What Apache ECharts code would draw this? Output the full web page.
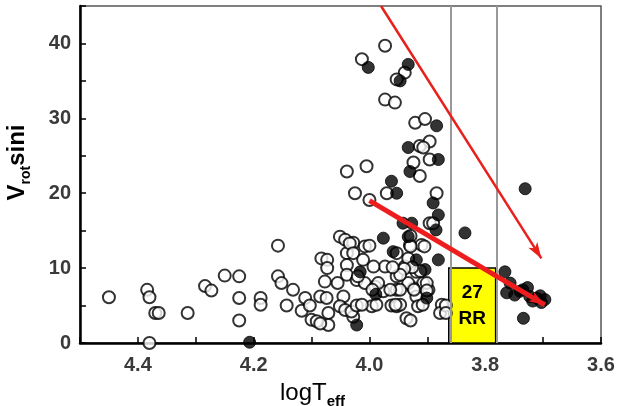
<!DOCTYPE html>
<html>
<head>
<meta charset="UTF-8">
<title>Vrot sini vs logTeff</title>
<script src="https://cdn.jsdelivr.net/npm/echarts@6/dist/echarts.min.js"></script>
<style type="text/css">
body{margin:0;padding:0;background:#fff;}
#main{width:617px;height:406px;}
</style>
</head>
<body>
<div id="main"></div>
<script type="text/javascript">
// open circles [logTeff, Vrot sini]
var openStars = [
  [4.45,6.1],[4.384,7.1],[4.38,6.1],[4.37,4.0],[4.364,4.0],[4.38,0],[4.314,4.0],[4.284,7.6],[4.273,7.0],
  [4.25,9.0],[4.225,8.9],[4.225,6.0],[4.225,3.0],[4.188,6.0],[4.188,5.1],[4.158,13.0],[4.158,8.9],[4.152,8.0],
  [4.143,5.0],[4.132,7.1],[4.111,6.0],[4.117,4.3],[4.103,5.0],[4.1,3.1],[4.091,2.9],[4.085,6.2],[4.083,11.3],
  [4.073,11.1],[4.073,10.0],[4.077,8.2],[4.074,6.0],[4.071,4.0],[4.071,2.4],[4.085,2.6],[4.051,14.2],[4.042,13.8],
  [4.028,13.4],[4.039,12.0],[4.039,10.4],[4.039,9.1],[4.055,8.0],[4.045,6.2],[4.051,4.9],[4.042,4.4],[4.022,8.4],
  [4.028,3.5],[4.034,13.3],[4.028,12.0],[4.008,12.9],[4.011,11.1],[3.973,10.2],[3.993,10.2],[4.008,8.0],[3.99,7.5],
  [3.976,6.9],[3.953,8.9],[3.953,7.1],[3.962,5.0],[3.953,4.9],[3.939,10.2],[3.933,11.3],[3.93,13.1],[3.919,9.5],
  [3.91,13.1],[3.907,8.0],[3.924,7.3],[3.933,8.0],[3.919,6.2],[3.898,7.1],[3.916,4.9],[3.936,3.3],[3.896,16.0],
  [3.875,5.1],[3.878,4.0],[4.031,4.2],[3.996,4.9],[4.022,5.0],[3.953,12.0],[4.0,13.0],[3.985,8.0],[3.995,7.1],
  [3.988,5.1],[4.013,5.1],[4.02,8.9],[3.973,39.7],[4.013,37.9],[3.939,36.1],[3.953,35.2],[3.973,32.5],[3.956,32.1],
  [3.921,29.4],[3.904,29.9],[3.913,26.3],[3.896,26.9],[3.907,26.1],[3.896,24.5],[3.924,24.1],[3.913,22.3],
  [4.039,22.9],[4.005,23.6],[4.025,20.0],[4.0,19.1],[3.97,20.0],[3.884,20.0],[3.89,16.0],[3.905,12.9],[3.912,9.6],
  [3.901,8.0],[3.901,7.0],[3.908,5.1],[3.929,14.3],[3.929,12.9],[3.926,10.1],[3.923,7.1],[3.929,3.0],[3.94,9.9],
  [3.947,9.1],[3.947,7.1],[3.947,5.1],[3.955,5.1],[3.964,7.1],[3.96,10.1],[3.868,5.0],[3.868,4.0]
];
// filled circles
var filledStars = [
  [4.207,0.1],[4.022,2.4],[4.016,9.5],[3.989,6.5],[4.002,36.8],[3.933,37.2],[3.947,35.0],[3.884,29.0],[3.933,26.1],
  [3.881,24.5],[3.93,22.9],[3.962,21.6],[3.953,20.0],[3.89,18.7],[3.881,17.1],[3.942,16.0],[3.927,16.0],[3.933,14.2],
  [3.976,14.0],[3.959,12.2],[3.919,11.1],[3.881,11.1],[3.904,9.8],[3.901,6.0],[3.885,15.1],[3.835,14.7],[3.731,20.6],
  [3.766,9.5],[3.757,8.0],[3.763,6.7],[3.749,6.4],[3.735,7.1],[3.723,6.2],[3.711,6.0],[3.703,5.4],[3.697,5.8],
  [3.705,6.3],[3.734,3.3],[3.74,6.9],[3.727,7.4],[3.718,5.6]
];
// instability strip edges and RR box
var stripEdges = [3.863, 3.782];
var rrBox = [[3.863, 0], [3.782, 10]];
var rrLabel = '27\nRR';
// arrows [from, to]
var thinArrow = [[3.98, 45], [3.703, 11.3]];
var thickArrow = [[4.0, 19.0], [3.697, 5.1]];

var myChart = echarts.init(document.getElementById('main'));

var tickFont = {fontFamily: 'Liberation Sans', fontWeight: 'bold', fontSize: 20, color: '#3a3a3a'};

myChart.setOption({
  animation: false,
  grid: {left: 80, right: 16, top: 6, bottom: 63, outerBoundsMode: 'none', containLabel: false,
    show: true, borderColor: '#555', borderWidth: 1.5},
  xAxis: {
    type: 'value', inverse: true, min: 3.6, max: 4.5, interval: 0.1,
    splitLine: {show: false},
    axisLine: {onZero: false, lineStyle: {color: '#000', width: 2.5}},
    axisTick: {inside: true, length: 6, lineStyle: {color: '#000', width: 1.5}},
    axisLabel: Object.assign({margin: 12, formatter: function (v) {
      return Math.round(v * 10) % 2 === 0 ? v.toFixed(1) : '';
    }}, tickFont),
    name: '{a|logT}{b|eff}', nameLocation: 'middle', nameGap: 34,
    nameTextStyle: {padding: [0, 56, 0, 0], rich: {
      a: {fontFamily: 'Liberation Sans', fontSize: 24, color: '#000', lineHeight: 32, verticalAlign: 'middle'},
      b: {fontFamily: 'Liberation Sans', fontSize: 15, color: '#000', fontWeight: 'bold', lineHeight: 15, verticalAlign: 'bottom'}
    }}
  },
  yAxis: {
    type: 'value', min: 0, max: 45, interval: 5,
    splitLine: {show: false},
    axisLine: {lineStyle: {color: '#000', width: 2.5}},
    axisTick: {inside: true, length: 6, lineStyle: {color: '#000', width: 1.5}},
    axisLabel: Object.assign({margin: 9, formatter: function (v) {
      return v % 10 === 0 ? String(v) : '';
    }}, tickFont),
    name: '{a|V}{b|rot}{a|sini}', nameLocation: 'middle', nameGap: 47, nameRotate: 90,
    nameTextStyle: {padding: [0, 0, 0, 24], rich: {
      a: {fontFamily: 'Liberation Sans', fontSize: 24, fontWeight: 'bold', color: '#000', lineHeight: 32, verticalAlign: 'middle'},
      b: {fontFamily: 'Liberation Sans', fontSize: 14, fontWeight: 'bold', color: '#000', lineHeight: 14, verticalAlign: 'bottom'}
    }}
  },
  series: [
    {
      name: 'open', type: 'scatter', symbol: 'circle', symbolSize: 12,
      itemStyle: {color: '#fff', borderColor: '#000', borderWidth: 2},
      data: openStars,
      markArea: {
        silent: true,
        itemStyle: {color: '#ffff00', borderColor: '#000', borderWidth: 1.5},
        label: {show: true, position: 'inside', formatter: rrLabel, fontFamily: 'Liberation Sans',
          fontWeight: 'bold', fontSize: 19, lineHeight: 26, color: '#000'},
        data: [[{coord: rrBox[0]}, {coord: rrBox[1]}]]
      },
      markLine: {
        silent: true, symbol: 'none', label: {show: false},
        lineStyle: {color: '#999', width: 2, type: 'solid'},
        data: stripEdges.map(function (x) { return {xAxis: x}; })
      }
    },
    {
      name: 'filled', type: 'scatter', symbol: 'circle', symbolSize: 12,
      itemStyle: {color: '#000', borderColor: '#000', borderWidth: 1},
      data: filledStars,
      markLine: {
        silent: true, label: {show: false}, symbol: ['none', 'arrow'],
        data: [
          [{coord: thinArrow[0], lineStyle: {color: '#e8201c', width: 2.5, type: 'solid'}, symbolSize: [10, 22]},
           {coord: thinArrow[1]}],
          [{coord: thickArrow[0], lineStyle: {color: '#ee1d1d', width: 5, type: 'solid'}, symbolSize: [16, 22]},
           {coord: thickArrow[1]}]
        ]
      }
    }
  ]
});
</script>
</body>
</html>
